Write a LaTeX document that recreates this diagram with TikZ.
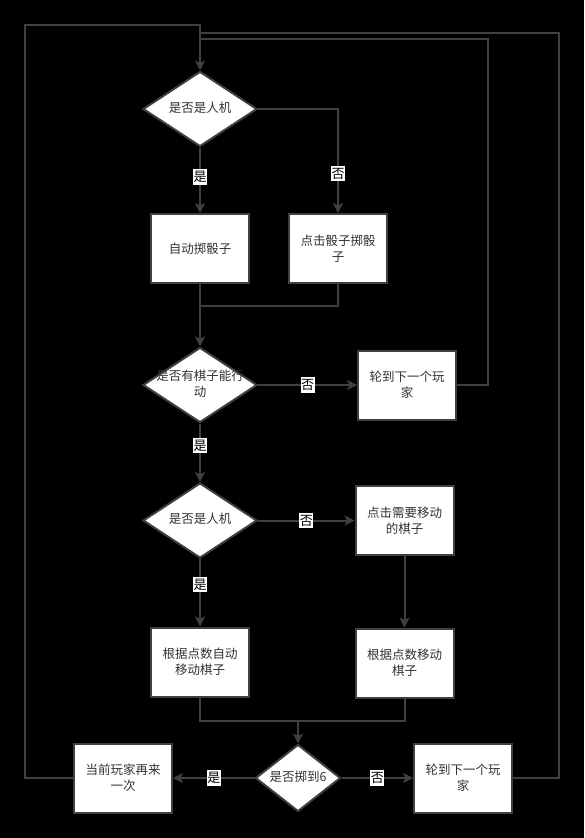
\documentclass[tikz,border=0pt]{standalone}
\usepackage{fontspec}
\newfontfamily\cjk{Noto Sans CJK SC}
\usetikzlibrary{shapes.geometric, arrows.meta}
\definecolor{lncol}{HTML}{404040}
\definecolor{txtcol}{HTML}{333333}
\newcommand{\dtext}[1]{\makebox[0pt]{\vbox to 0pt{\vss\hbox{\begin{tabular}{@{}c@{}}#1\end{tabular}}\vss}}}
\tikzset{
    proc/.style = {draw=lncol, fill=white, line width=2pt, minimum width=98pt, minimum height=69pt, align=center, text=txtcol, inner sep=0pt},
    dec/.style = {diamond, draw=lncol, fill=white, line width=2pt, minimum width=114pt, minimum height=75pt, inner sep=0pt, text=txtcol},
    wire/.style = {draw=lncol, line width=2pt},
    arr/.style = {wire, -{Stealth[length=10pt,width=10pt,inset=2.5pt]}},
    yn/.style = {fill=white, text=black, inner xsep=0.5pt, inner ysep=2pt, font=\cjk\fontsize{13}{16}\selectfont},
}

\begin{document}
\begin{tikzpicture}[x=1pt,y=-1pt,font=\cjk\fontsize{12.5}{16}\selectfont]
\fill[black] (0,0) rectangle (584,838);
\useasboundingbox (0,0) rectangle (584,838);

\node[dec] (d1) at (200,109) {\dtext{是否是人机}};
\node[proc] (auto) at (200,248.5) {自动掷骰子};
\node[proc] (click) at (338,248.5) {点击骰子掷骰\\子};
\node[dec] (d2) at (200,385) {\dtext{是否有棋子能行\\动}};
\node[proc] (next1) at (407,385) {轮到下一个玩\\家};
\node[dec] (d3) at (200,520.5) {\dtext{是否是人机}};
\node[proc] (pick) at (404.5,520.5) {点击需要移动\\的棋子};
\node[proc] (amove) at (200,662) {根据点数自动\\移动棋子};
\node[proc] (move) at (404.5,663) {根据点数移动\\棋子};
\node[dec, minimum width=85pt, minimum height=67pt] (d4) at (298,778) {\dtext{是否掷到6}};
\node[proc] (again) at (123,778) {当前玩家再来\\一次};
\node[proc] (next2) at (463,778) {轮到下一个玩\\家};

\coordinate (lt) at (25,25);
\coordinate (rt2) at (559,33);
\coordinate (rt1) at (488,39);
\coordinate (m1) at (200,306);
\coordinate (m2) at (298,721);

\draw[arr] (again.west) -| (lt) -| (d1.north);
\draw[wire] (next2.east) -| (rt2) -- (rt2 -| d1.north);
\draw[wire] (next1.east) -| (rt1) -- (rt1 -| d1.north);

\draw[arr] (d1.south) -- node[yn,pos=0.45]{是} (auto.north);
\draw[arr] (d1.east) -| node[yn,pos=0.81]{否} (click.north);
\draw[wire] (click.south) |- (m1);
\draw[arr] (auto.south) -- (d2.north);

\draw[arr] (d2.east) -- node[yn]{否} (next1.west);
\draw[arr] (d2.south) -- node[yn,pos=0.38]{是} (d3.north);

\draw[arr] (d3.east) -- node[yn]{否} (pick.west);
\draw[arr] (d3.south) -- node[yn,pos=0.38]{是} (amove.north);
\draw[arr] (pick.south) -- (move.north);

\draw[wire] (amove.south) |- (m2);
\draw[wire] (move.south) |- (m2);
\draw[arr] (m2) -- (d4.north);

\draw[arr] (d4.west) -- node[yn]{是} (again.east);
\draw[arr] (d4.east) -- node[yn]{否} (next2.west);

\end{tikzpicture}
\end{document}
